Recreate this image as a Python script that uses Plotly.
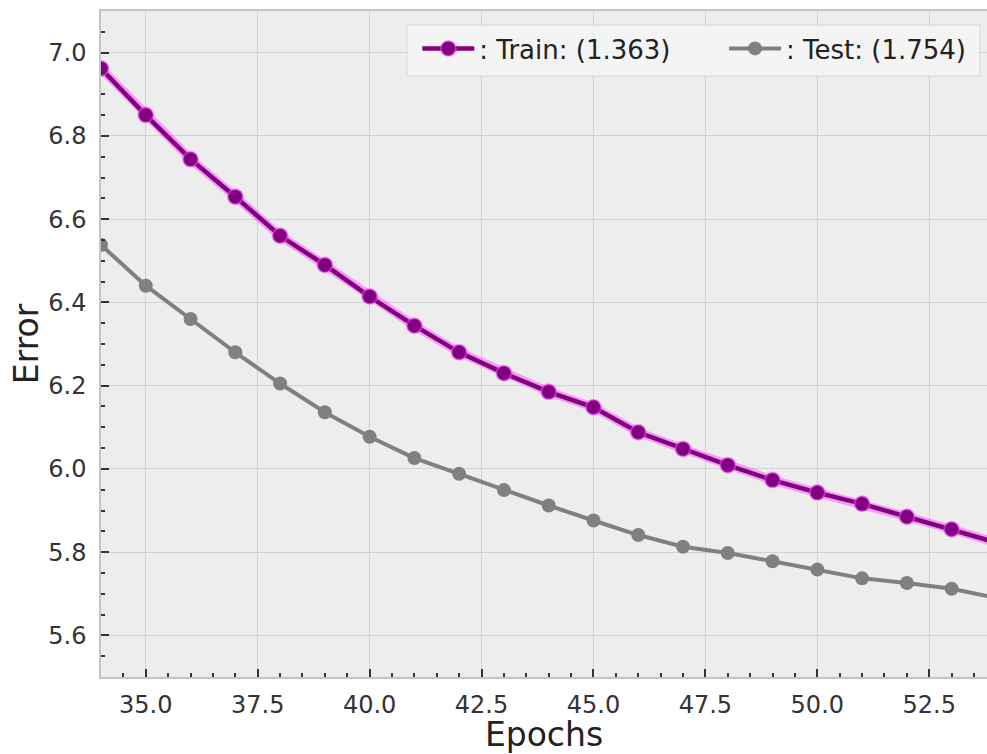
import plotly.graph_objects as go

epochs = [34, 35, 36, 37, 38, 39, 40, 41, 42, 43, 44, 45, 46, 47, 48, 49, 50, 51, 52, 53, 54]
train_err = [6.962, 6.850, 6.744, 6.654, 6.560, 6.490, 6.414, 6.344, 6.280, 6.230,
             6.185, 6.148, 6.088, 6.048, 6.009, 5.973, 5.943, 5.916, 5.885, 5.855, 5.823]
test_err = [6.538, 6.440, 6.360, 6.280, 6.205, 6.136, 6.077, 6.026, 5.988, 5.949,
            5.912, 5.876, 5.841, 5.813, 5.798, 5.778, 5.758, 5.737, 5.726, 5.712, 5.690]
train_name = ": Train: (1.363)"
test_name = ": Test: (1.754)"

PURPLE = "#800080"
GRAY = "#808080"
FONT = "DejaVu Sans"

fig = go.Figure()
# soft glow under the train line
fig.add_trace(go.Scatter(x=epochs, y=train_err, mode="lines",
                         line=dict(color="rgba(255,60,255,0.45)", width=9),
                         showlegend=False, hoverinfo="skip"))
fig.add_trace(go.Scatter(x=epochs, y=test_err, mode="lines+markers", name=test_name,
                         line=dict(color=GRAY, width=4),
                         marker=dict(size=14, color=GRAY), legend="legend2"))
fig.add_trace(go.Scatter(x=epochs, y=train_err, mode="lines+markers", name=train_name,
                         line=dict(color=PURPLE, width=4.5),
                         marker=dict(size=15, color=PURPLE,
                                     line=dict(color="rgba(255,80,255,0.5)", width=2)),
                         legend="legend"))

axis_common = dict(
    showgrid=True, gridcolor="#d2d2d2", gridwidth=1.2,
    showline=True, linecolor="#c4c4c4", linewidth=1.5,
    ticks="inside", tickcolor="#333333", ticklen=8, tickwidth=1.5,
    tickfont=dict(family=FONT, size=24, color="#333333"),
    zeroline=False,
)

fig.update_xaxes(
    range=[34, 53.79], tick0=35, dtick=2.5, tickformat=".1f", mirror=True,
    minor=dict(ticks="inside", dtick=0.5, tick0=35, ticklen=4, tickcolor="#333333", showgrid=False),
    title=dict(text="Epochs", font=dict(family=FONT, size=33, color="#222222"), standoff=8),
    ticklabelstandoff=5,
    **axis_common,
)
fig.update_yaxes(
    range=[5.5, 7.1], tick0=5.6, dtick=0.2, tickformat=".1f", mirror=False,
    minor=dict(ticks="inside", dtick=0.05, tick0=5.6, ticklen=4, tickcolor="#333333", showgrid=False),
    title=dict(text="Error", font=dict(family=FONT, size=33, color="#222222"), standoff=0),
    ticklabelstandoff=8,
    **axis_common,
)

legend_common = dict(
    orientation="h", yanchor="top", xanchor="left", y=0.979,
    bgcolor="rgba(0,0,0,0)", borderwidth=0,
    font=dict(family=FONT, size=26, color="#222222"),
    itemwidth=52,
)

fig.update_layout(
    width=987, height=754,
    margin=dict(l=101, r=0, t=11, b=77),
    paper_bgcolor="white", plot_bgcolor="#ededed",
    font=dict(family=FONT, color="#222222"),
    legend=dict(x=0.357, **legend_common),
    legend2=dict(x=0.7032, **legend_common),
    showlegend=True,
    shapes=[dict(type="rect", xref="paper", yref="paper",
                 x0=0.3454, x1=0.9921, y0=0.9024, y1=0.979,
                 fillcolor="rgba(244,244,244,0.85)",
                 line=dict(color="#d6d6d6", width=1), layer="above")],
)

fig.write_html("out.html")
